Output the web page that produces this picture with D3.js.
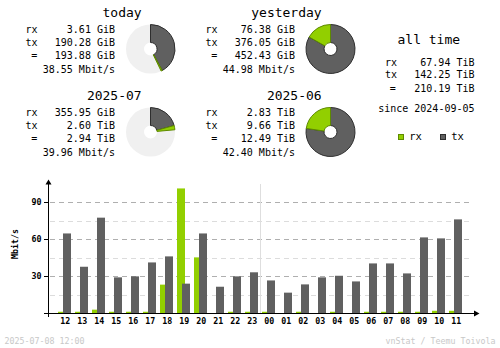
<!DOCTYPE html>
<html>
<head>
<meta charset="utf-8">
<script src="https://cdn.jsdelivr.net/npm/d3@7"></script>
<style>
  html, body { margin: 0; padding: 0; background: #fff; }
  svg { display: block; }
  text { font-family: "DejaVu Sans Mono", monospace; fill: #000; }
</style>
</head>
<body>
<svg id="chart" width="500" height="348"></svg>
<script>
// Summary periods
const periods = ["today", "yesterday", "2025-07", "2025-06"];
const rxValues = [3.61, 76.38, 355.95, 2.83];
const rxUnits = ["GiB", "GiB", "GiB", "TiB"];
const txValues = [190.28, 376.05, 2.60, 9.66];
const txUnits = ["GiB", "GiB", "TiB", "TiB"];
const totalValues = [193.88, 452.43, 2.94, 12.49];
const totalUnits = ["GiB", "GiB", "TiB", "TiB"];
const rates = [38.55, 44.98, 39.96, 42.40];

// All time totals
const allTimeRx = 67.94, allTimeTx = 142.25, allTimeTotal = 210.19;
const allTimeUnit = "TiB";
const sinceDate = "2024-09-05";

// Hourly average rate, Mbit/s
const hours = ["12","13","14","15","16","17","18","19","20","21","22","23",
               "00","01","02","03","04","05","06","07","08","09","10","11"];
const hourlyRx = [1.0, 1.0, 2.7, 1.0, 1.0, 1.0, 23.0, 101.0, 45.1, 0, 1.0, 1.0,
                  1.0, 0, 1.0, 0, 1.0, 0, 1.0, 1.0, 1.0, 1.0, 1.8, 1.8];
const hourlyTx = [64.5, 37.5, 77.3, 28.9, 29.7, 41.0, 45.9, 23.8, 64.5, 21.3, 29.7, 33.0,
                  26.4, 16.5, 23.2, 28.9, 30.2, 25.6, 40.2, 40.2, 32.1, 61.3, 60.5, 75.9];
const majorTicks = [30, 60, 90];
const minorTicks = [15, 45, 75];

const stamp = "2025-07-08 12:00";
const credit = "vnStat / Teemu Toivola";

const rxColor = "#92cf00", rxEdge = "#5e8a00";
const txColor = "#606060", txEdge = "#2e2e2e";
const pieBg = "#f0f0f0";

const svg = d3.select("#chart");

const toGiB = (v, u) => u === "TiB" ? v * 1024 : v;

// ---------- summary blocks ----------
const blocks = [
  { dx: 0,   dy: 0 },
  { dx: 180, dy: 0 },
  { dx: 0,   dy: 83 },
  { dx: 180, dy: 83 }
];

const arc = d3.arc().innerRadius(6.5).outerRadius(24.5);

blocks.forEach((b, i) => {
  const g = svg.append("g").attr("transform", `translate(${b.dx},${b.dy})`);
  g.append("text").attr("x", 141.7).attr("y", 16.5)
    .attr("text-anchor", "end").style("font-size", "13px").text(periods[i]);

  const rows = [
    { label: "rx", lx: 25.5, anchor: "start", val: `${rxValues[i].toFixed(2)} ${rxUnits[i]}`, y: 33.2 },
    { label: "tx", lx: 25.5, anchor: "start", val: `${txValues[i].toFixed(2)} ${txUnits[i]}`, y: 45.6 },
    { label: "=",  lx: 34.2, anchor: "middle", val: `${totalValues[i].toFixed(2)} ${totalUnits[i]}`, y: 59 }
  ];
  rows.forEach(r => {
    g.append("text").attr("x", r.lx).attr("y", r.y).attr("text-anchor", r.anchor)
      .style("font-size", "10px").text(r.label);
    g.append("text").attr("x", 115).attr("y", r.y).attr("text-anchor", "end")
      .style("font-size", "10px").text(r.val);
  });
  g.append("text").attr("x", 115).attr("y", 73.3).attr("text-anchor", "end")
    .style("font-size", "10px").text(`${rates[i].toFixed(2)} Mbit/s`);
});

// Donuts: current period relative to the previous one
function donut(cx, cy, cur, prev) {
  const rx = toGiB(rxValues[cur], rxUnits[cur]);
  const tx = toGiB(txValues[cur], txUnits[cur]);
  const tot = toGiB(totalValues[cur], totalUnits[cur]);
  const ref = prev == null ? tot : Math.max(tot, toGiB(totalValues[prev], totalUnits[prev]));
  const frac = tot / ref;
  const full = 2 * Math.PI * frac;
  const txEnd = full * tx / (rx + tx);
  const g = svg.append("g").attr("transform", `translate(${cx},${cy})`);
  g.append("path").attr("d", arc({ startAngle: 0, endAngle: 2 * Math.PI })).attr("fill", pieBg);
  g.append("path").attr("d", arc({ startAngle: 0, endAngle: txEnd }))
    .attr("fill", txColor).attr("stroke", txEdge).attr("stroke-width", 1);
  g.append("path").attr("d", arc({ startAngle: txEnd, endAngle: full }))
    .attr("fill", rxColor).attr("stroke", rxEdge).attr("stroke-width", 1);
}
donut(150.5, 49, 0, 1);
donut(330.5, 49, 1, null);
donut(150.5, 132, 2, 3);
donut(330.5, 132, 3, null);

// ---------- all time ----------
svg.append("text").attr("x", 428.8).attr("y", 44).attr("text-anchor", "middle")
  .style("font-size", "13px").text("all time");
[
  { label: "rx", lx: 385, anchor: "start", v: allTimeRx, y: 65.7 },
  { label: "tx", lx: 385, anchor: "start", v: allTimeTx, y: 77.7 },
  { label: "=",  lx: 392.7, anchor: "middle", v: allTimeTotal, y: 91.7 }
].forEach(r => {
  svg.append("text").attr("x", r.lx).attr("y", r.y).attr("text-anchor", r.anchor)
    .style("font-size", "10px").text(r.label);
  svg.append("text").attr("x", 474.5).attr("y", r.y).attr("text-anchor", "end")
    .style("font-size", "10px").text(`${r.v.toFixed(2)} ${allTimeUnit}`);
});
svg.append("text").attr("x", 474.5).attr("y", 111.7).attr("text-anchor", "end")
  .style("font-size", "10px").text(`since ${sinceDate}`);

// legend
[{ x: 398.5, fill: rxColor, edge: rxEdge, name: "rx" },
 { x: 440.5, fill: txColor, edge: txEdge, name: "tx" }].forEach(l => {
  svg.append("rect").attr("x", l.x).attr("y", 134.5).attr("width", 5).attr("height", 5)
    .attr("fill", l.fill).attr("stroke", l.edge).attr("stroke-width", 1);
  svg.append("text").attr("x", l.x + 10.8).attr("y", 140.3).style("font-size", "10.5px").text(l.name);
});

// ---------- hourly chart ----------
const x = d3.scaleBand().domain(hours).range([54, 54 + 17 * hours.length]);
const y = d3.scaleLinear().domain([0, 90]).range([313, 202]);

const grid = svg.append("g");
grid.selectAll("line.minor").data(minorTicks).join("line")
  .attr("x1", 50).attr("x2", 473)
  .attr("y1", d => Math.round(y(d)) + 0.5).attr("y2", d => Math.round(y(d)) + 0.5)
  .attr("stroke", "#dcdcdc").attr("stroke-dasharray", "5,4");
grid.selectAll("line.major").data(majorTicks).join("line")
  .attr("x1", 50).attr("x2", 473)
  .attr("y1", d => Math.round(y(d)) + 0.5).attr("y2", d => Math.round(y(d)) + 0.5)
  .attr("stroke", "#afafaf").attr("stroke-dasharray", "5,4");

// day boundary
svg.append("line").attr("x1", x("00") + 2.5).attr("x2", x("00") + 2.5)
  .attr("y1", 184).attr("y2", 313).attr("stroke", "#dedede");

// bars: rx first, tx on top
svg.append("g").selectAll("rect").data(hours).join("rect")
  .attr("x", d => x(d) + 4).attr("width", 8)
  .attr("y", (d, i) => y(hourlyRx[i])).attr("height", (d, i) => y(0) - y(hourlyRx[i]))
  .attr("fill", rxColor);
svg.append("g").selectAll("rect").data(hours).join("rect")
  .attr("x", d => x(d) + 9).attr("width", 8)
  .attr("y", (d, i) => y(hourlyTx[i])).attr("height", (d, i) => y(0) - y(hourlyTx[i]))
  .attr("fill", txColor);

// axes
svg.append("line").attr("x1", 44).attr("x2", 476).attr("y1", 313.5).attr("y2", 313.5)
  .attr("stroke", "#000");
svg.append("path").attr("d", "M474,310.5 L479.5,313.5 L474,316.5 Z").attr("fill", "#000");
svg.append("line").attr("x1", 48.5).attr("x2", 48.5).attr("y1", 183).attr("y2", 317)
  .attr("stroke", "#000");
svg.append("path").attr("d", "M45.5,184.5 L48.5,179.5 L51.5,184.5 Z").attr("fill", "#000");

svg.append("g").selectAll("line").data(majorTicks).join("line")
  .attr("x1", 44).attr("x2", 48)
  .attr("y1", d => Math.round(y(d)) + 0.5).attr("y2", d => Math.round(y(d)) + 0.5)
  .attr("stroke", "#000");
svg.append("g").selectAll("text").data(majorTicks).join("text")
  .attr("x", 41.5).attr("y", d => y(d) + 3.2).attr("text-anchor", "end")
  .style("font-size", "8.3px").style("font-weight", "bold").text(d => d);

svg.append("g").selectAll("text").data(hours).join("text")
  .attr("x", d => x(d) + 11.2).attr("y", 324).attr("text-anchor", "middle")
  .style("font-size", "8.3px").style("font-weight", "bold").text(d => d);

svg.append("text").attr("transform", "translate(18,244) rotate(-90)")
  .attr("text-anchor", "middle").style("font-size", "8.3px").style("font-weight", "bold")
  .text("Mbit/s");

// footer
svg.append("text").attr("x", 4.5).attr("y", 344).style("font-size", "8.3px")
  .style("fill", "#c8c8c8").text(stamp);
svg.append("text").attr("x", 495.5).attr("y", 343.5).attr("text-anchor", "end")
  .style("font-size", "8.3px").style("fill", "#c8c8c8").text(credit);
</script>
</body>
</html>
